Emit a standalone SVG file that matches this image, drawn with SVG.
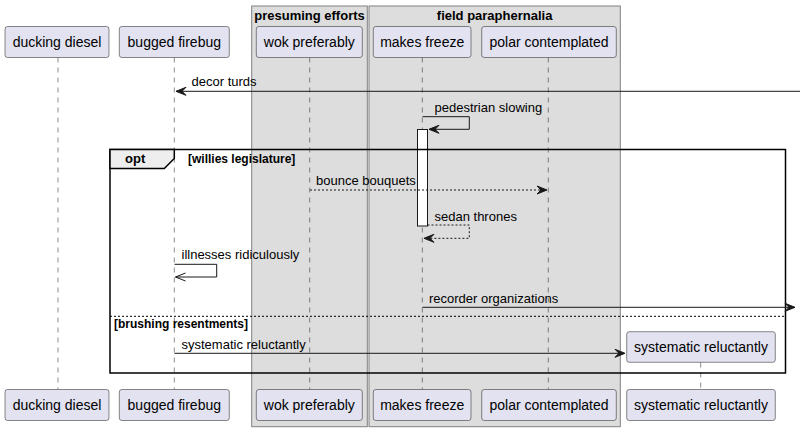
<svg xmlns="http://www.w3.org/2000/svg" width="800" height="431" viewBox="0 0 800 431">
<style>
.part rect{fill:#E2E2F0;stroke:#181818;stroke-width:0.5}
.part text{font-family:"Liberation Sans",Arial,sans-serif;font-size:14px;fill:#000;text-anchor:middle}
.box{fill:#DDDDDD;stroke:#808080;stroke-width:1}
.boxt{font-family:"Liberation Sans",Arial,sans-serif;font-size:13px;font-weight:bold;fill:#000;text-anchor:middle}
.life{stroke:#181818;stroke-width:0.5;stroke-dasharray:5,5;fill:none}
.msg{stroke:#181818;stroke-width:1;fill:none}
.dash{stroke-dasharray:2,2}
.head{fill:#181818;stroke:#181818;stroke-width:1}
.lbl{font-family:"Liberation Sans",Arial,sans-serif;font-size:13px;fill:#000}
.grd{font-family:"Liberation Sans",Arial,sans-serif;font-size:12px;font-weight:bold;fill:#000}
</style>
<g id="box-presuming">
<rect class="box" x="251.7" y="6" width="115.6" height="420.7"/>
<text class="boxt" x="309.5" y="19.5">presuming efforts</text>
</g>
<g id="box-field">
<rect class="box" x="369" y="6" width="251.3" height="420.7"/>
<text class="boxt" x="494.6" y="19.5">field paraphernalia</text>
</g>
<g id="lifelines">
<line class="life" x1="58" y1="57.5" x2="58" y2="389.5"/>
<line class="life" x1="174.3" y1="57.5" x2="174.3" y2="389.5"/>
<line class="life" x1="309.7" y1="57.5" x2="309.7" y2="389.5"/>
<line class="life" x1="422.3" y1="57.5" x2="422.3" y2="389.5"/>
<line class="life" x1="548.3" y1="57.5" x2="548.3" y2="389.5"/>
<line class="life" x1="700.7" y1="362.5" x2="700.7" y2="389.5"/>
</g>
<g id="activation">
<rect x="417.5" y="129.5" width="10" height="96.5" fill="#FFFFFF" stroke="#181818" stroke-width="1"/>
</g>
<g id="frame-opt">
<rect x="110" y="149.5" width="675.5" height="223.5" fill="none" stroke="#000" stroke-width="1.5"/>
<path d="M110,149.5 L174.3,149.5 L174.3,158.5 L164.3,168.5 L110,168.5 Z" fill="#EEEEEE" stroke="#000" stroke-width="1.5"/>
<text class="lbl" x="125" y="163" font-weight="bold">opt</text>
<text class="grd" x="188" y="162.5">[willies legislature]</text>
<line x1="110" y1="316.3" x2="785.5" y2="316.3" stroke="#000" stroke-width="1" stroke-dasharray="2,2"/>
<text class="grd" x="114" y="328">[brushing resentments]</text>
</g>
<g id="connectors">
<line class="msg" x1="176" y1="91.3" x2="800" y2="91.3"/>
<polygon class="head" points="186,87.3 176,91.3 186,95.3 182,91.3"/>
<text class="lbl" x="191.5" y="85.5">decor turds</text>

<polyline class="msg" points="422.5,116.7 469.3,116.7 469.3,129.3 429,129.3"/>
<polygon class="head" points="439,125.3 429,129.3 439,133.3 435,129.3"/>
<text class="lbl" x="434.5" y="112">pedestrian slowing</text>

<line class="msg dash" x1="310" y1="190" x2="546" y2="190"/>
<polygon class="head" points="537,186 547,190 537,194 541,190"/>
<text class="lbl" x="316" y="185">bounce bouquets</text>

<polyline class="msg dash" points="427.5,225 469.3,225 469.3,238.3 424,238.3"/>
<polygon class="head" points="434,234.3 424,238.3 434,242.3 430,238.3"/>
<text class="lbl" x="434.5" y="221">sedan thrones</text>

<polyline class="msg" points="174.5,264.3 216.7,264.3 216.7,277 175.5,277"/>
<polyline class="msg" points="185.5,273 175.5,277 185.5,281"/>
<text class="lbl" x="181.5" y="259">illnesses ridiculously</text>

<line class="msg" x1="422.5" y1="307.3" x2="794" y2="307.3"/>
<polygon class="head" points="785,303.3 795,307.3 785,311.3 789,307.3"/>
<text class="lbl" x="429" y="302.5">recorder organizations</text>

<line class="msg" x1="174.5" y1="353.3" x2="624" y2="353.3"/>
<polygon class="head" points="615,349.3 625,353.3 615,357.3 619,353.3"/>
<text class="lbl" x="181.5" y="348.5">systematic reluctantly</text>
</g>
<g id="p-ducking" class="part">
<rect x="5" y="26.5" width="104" height="31" rx="2.5"/>
<text x="57" y="47">ducking diesel</text>
<rect x="5" y="389.5" width="104" height="31" rx="2.5"/>
<text x="57" y="410">ducking diesel</text>
</g>
<g id="p-bugged" class="part">
<rect x="119.3" y="26.5" width="110" height="31" rx="2.5"/>
<text x="174.3" y="47">bugged firebug</text>
<rect x="119.3" y="389.5" width="110" height="31" rx="2.5"/>
<text x="174.3" y="410">bugged firebug</text>
</g>
<g id="p-wok" class="part">
<rect x="256.3" y="26.5" width="106" height="31" rx="2.5"/>
<text x="309.3" y="47">wok preferably</text>
<rect x="256.3" y="389.5" width="106" height="31" rx="2.5"/>
<text x="309.3" y="410">wok preferably</text>
</g>
<g id="p-makes" class="part">
<rect x="373.3" y="26.5" width="97.7" height="31" rx="2.5"/>
<text x="422.2" y="47">makes freeze</text>
<rect x="373.3" y="389.5" width="97.7" height="31" rx="2.5"/>
<text x="422.2" y="410">makes freeze</text>
</g>
<g id="p-polar" class="part">
<rect x="481.7" y="26.5" width="134.6" height="31" rx="2.5"/>
<text x="549" y="47">polar contemplated</text>
<rect x="481.7" y="389.5" width="134.6" height="31" rx="2.5"/>
<text x="549" y="410">polar contemplated</text>
</g>
<g id="p-systematic" class="part">
<rect x="626.7" y="331.7" width="148.6" height="30.6" rx="2.5"/>
<text x="701" y="352">systematic reluctantly</text>
<rect x="626.7" y="389.5" width="148.6" height="31" rx="2.5"/>
<text x="701" y="410">systematic reluctantly</text>
</g>
</svg>
